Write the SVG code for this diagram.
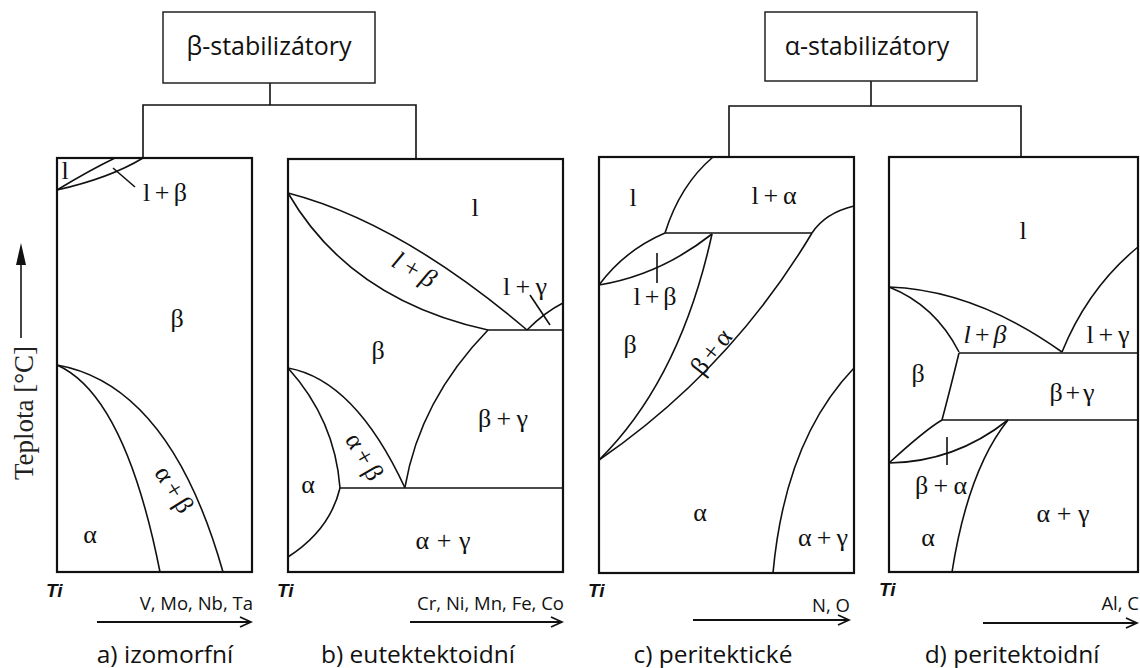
<svg xmlns="http://www.w3.org/2000/svg" width="1140" height="668" viewBox="0 0 1140 668">
<defs>
<style>
.bg{fill:#fff}
.frame{fill:none;stroke:#111;stroke-width:2.2}
.box{fill:#fff;stroke:#222;stroke-width:1.5}
.conn{fill:none;stroke:#111;stroke-width:1.6}
.cv{fill:none;stroke:#111;stroke-width:1.6}
.ph{font-family:"Liberation Serif","DejaVu Serif",serif;font-size:26px;fill:#111;text-anchor:middle}
.phi{font-style:italic}
.ti{font-family:"Liberation Sans",Arial,sans-serif;font-size:19px;font-weight:bold;font-style:italic;fill:#111}
.el{font-family:"Open Sans","Liberation Sans",sans-serif;font-size:18.5px;fill:#111;text-anchor:end}
.cap{font-family:"Open Sans","Liberation Sans",sans-serif;font-size:24.5px;fill:#111;text-anchor:middle}
.hd{font-family:"Open Sans","Liberation Sans",sans-serif;font-size:25px;fill:#111;text-anchor:middle}
.ax{fill:none;stroke:#111;stroke-width:1.8}
</style>
<marker id="open" markerWidth="14" markerHeight="12" refX="12" refY="6" orient="auto" markerUnits="userSpaceOnUse">
<path d="M1,1 L12,6 L1,11" fill="none" stroke="#111" stroke-width="1.8"/>
</marker>
</defs>
<rect class="bg" x="0" y="0" width="1140" height="668"/>

<g id="connectors">
<line class="conn" x1="270" y1="83" x2="270" y2="105"/>
<polyline class="conn" points="143,158 143,105 416,105 416,159"/>
<line class="conn" x1="871" y1="81" x2="871" y2="106"/>
<polyline class="conn" points="729,157 729,106 1021,106 1021,157"/>
</g>

<g id="beta-stabilizatory">
<rect class="box" x="163" y="12" width="212" height="71"/>
<text class="hd" x="269" y="55">β-stabilizátory</text>
</g>

<g id="alpha-stabilizatory">
<rect class="box" x="765" y="12" width="212" height="69"/>
<text class="hd" x="867" y="55">α-stabilizátory</text>
</g>

<g id="y-axis">
<text font-family="Liberation Serif,serif" font-size="27" fill="#222" text-anchor="middle" transform="translate(33,413) rotate(-90)">Teplota [°C]</text>
<line x1="21" y1="338" x2="21" y2="262" stroke="#444" stroke-width="2"/>
<path d="M21,243 L26,265 L16,265 Z" fill="#111"/>
</g>

<g id="panel-a">
<rect class="frame" x="57" y="158" width="195" height="414"/>
<path class="cv" d="M57,190 Q90,170 115,158"/>
<path class="cv" d="M57,190 Q110,178 143,158"/>
<line class="cv" x1="113" y1="168" x2="135" y2="187"/>
<path class="cv" d="M57,365 Q125,395 160,572"/>
<path class="cv" d="M57,365 Q170,385 223,572"/>
<text class="ph" x="65" y="179">l</text>
<text class="ph" x="165" y="201" textLength="44" lengthAdjust="spacing">l+β</text>
<text class="ph" x="177" y="327">β</text>
<text class="ph" x="90" y="543">α</text>
<text class="ph" transform="translate(167,494) rotate(58)" textLength="50" lengthAdjust="spacing">α+β</text>
<text class="ti" x="46" y="597">Ti</text>
<text class="el" x="253" y="610">V, Mo, Nb, Ta</text>
<line class="ax" x1="97" y1="622" x2="251" y2="622" marker-end="url(#open)"/>
<text class="cap" x="165" y="663">a) izomorfní</text>
</g>

<g id="panel-b">
<rect class="frame" x="288" y="159" width="275" height="413"/>
<path class="cv" d="M288,193 Q400,222 527,330"/>
<path class="cv" d="M288,193 Q350,300 488,330"/>
<line class="cv" x1="488" y1="330" x2="563" y2="330"/>
<path class="cv" d="M527,330 Q545,312 563,303"/>
<line class="cv" x1="530" y1="295" x2="550" y2="325"/>
<path class="cv" d="M405,487 Q420,400 488,330"/>
<line class="cv" x1="340" y1="488" x2="563" y2="488"/>
<path class="cv" d="M288,368 Q355,380 405,488"/>
<path class="cv" d="M288,368 Q335,420 340,488"/>
<path class="cv" d="M340,488 Q330,530 288,557"/>
<text class="ph" x="475" y="216">l</text>
<text class="ph phi" transform="translate(410,277) rotate(30)" textLength="46" lengthAdjust="spacing">l+β</text>
<text class="ph" x="525" y="295" textLength="44" lengthAdjust="spacing">l+γ</text>
<text class="ph" x="378" y="359">β</text>
<text class="ph" x="308" y="493">α</text>
<text class="ph" transform="translate(357,461) rotate(60)" textLength="50" lengthAdjust="spacing">α+β</text>
<text class="ph" x="503" y="427" textLength="50" lengthAdjust="spacing">β+γ</text>
<text class="ph" x="443" y="549" textLength="55" lengthAdjust="spacing">α+γ</text>
<text class="ti" x="277" y="597">Ti</text>
<text class="el" x="564" y="610">Cr, Ni, Mn, Fe, Co</text>
<line class="ax" x1="410" y1="622" x2="562" y2="622" marker-end="url(#open)"/>
<text class="cap" x="418" y="663">b) eutektektoidní</text>
</g>

<g id="panel-c">
<rect class="frame" x="599" y="157" width="255" height="416"/>
<path class="cv" d="M713,157 Q680,185 665,233"/>
<line class="cv" x1="665" y1="233" x2="812" y2="233"/>
<path class="cv" d="M812,233 Q825,213 854,206"/>
<path class="cv" d="M599,285 Q625,250 665,233"/>
<path class="cv" d="M599,285 Q660,275 712,234"/>
<line class="cv" x1="657" y1="253" x2="657" y2="283"/>
<path class="cv" d="M712,234 Q680,380 599,460"/>
<path class="cv" d="M812,233 Q730,370 599,460"/>
<path class="cv" d="M773,573 Q785,440 854,368"/>
<text class="ph" x="633" y="206">l</text>
<text class="ph" x="774" y="204" textLength="45" lengthAdjust="spacing">l+α</text>
<text class="ph" x="655" y="305" textLength="43" lengthAdjust="spacing">l+β</text>
<text class="ph" x="630" y="353">β</text>
<text class="ph" transform="translate(718,357) rotate(-52)" textLength="50" lengthAdjust="spacing">β+α</text>
<text class="ph" x="700" y="521">α</text>
<text class="ph" x="823" y="546" textLength="50" lengthAdjust="spacing">α+γ</text>
<text class="ti" x="588" y="597">Ti</text>
<text class="el" x="850" y="612">N, O</text>
<line class="ax" x1="693" y1="620" x2="849" y2="620" marker-end="url(#open)"/>
<text class="cap" x="713" y="663">c) peritektické</text>
</g>

<g id="panel-d">
<rect class="frame" x="889" y="157" width="249" height="415"/>
<path class="cv" d="M889,287 Q975,290 1062,352"/>
<path class="cv" d="M889,287 Q935,305 959,352"/>
<line class="cv" x1="959" y1="353" x2="1138" y2="353"/>
<path class="cv" d="M1062,352 Q1088,288 1138,247"/>
<path class="cv" d="M959,353 Q950,390 942,420"/>
<line class="cv" x1="942" y1="420" x2="1138" y2="420"/>
<path class="cv" d="M889,463 Q925,430 942,420"/>
<path class="cv" d="M889,463 Q955,462 1008,420"/>
<line class="cv" x1="947" y1="437" x2="947" y2="465"/>
<path class="cv" d="M1008,420 Q968,470 952,572"/>
<text class="ph" x="1023" y="239">l</text>
<text class="ph phi" x="985" y="343" textLength="43" lengthAdjust="spacing">l+β</text>
<text class="ph" x="1108" y="343" textLength="43" lengthAdjust="spacing">l+γ</text>
<text class="ph" x="918" y="382">β</text>
<text class="ph" x="1072" y="401" textLength="45" lengthAdjust="spacing">β+γ</text>
<text class="ph" x="941" y="494" textLength="52" lengthAdjust="spacing">β+α</text>
<text class="ph" x="1063" y="522" textLength="53" lengthAdjust="spacing">α+γ</text>
<text class="ph" x="928" y="546">α</text>
<text class="ti" x="879" y="596">Ti</text>
<text class="el" x="1139" y="610">Al, C</text>
<line class="ax" x1="983" y1="623" x2="1137" y2="623" marker-end="url(#open)"/>
<text class="cap" x="1012" y="663">d) peritektoidní</text>
</g>
</svg>
